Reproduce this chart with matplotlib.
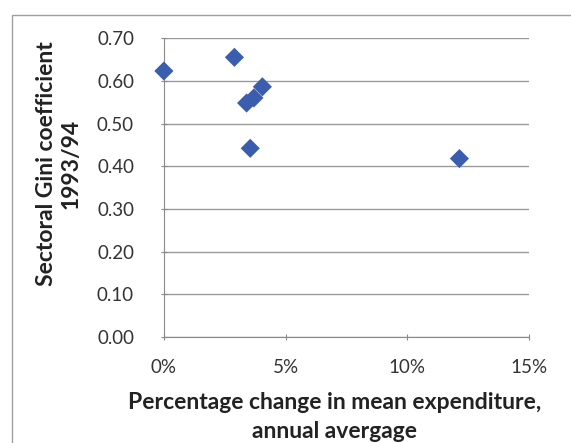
import matplotlib.pyplot as plt
import matplotlib.ticker as mtick
from matplotlib.patches import Rectangle

# mean expenditure growth (%, annual average) vs sectoral Gini 1993/94
growth = [0.0, 2.9, 3.4, 3.7, 4.05, 3.55, 12.15]
gini = [0.623, 0.655, 0.548, 0.560, 0.586, 0.442, 0.418]

x_ticks = [0, 5, 10, 15]
y_ticks = [0.0, 0.1, 0.2, 0.3, 0.4, 0.5, 0.6, 0.7]

plt.rcParams['font.family'] = ['Lato', 'DejaVu Sans']

fig = plt.figure(figsize=(5.71, 4.43), dpi=100)
ax = fig.add_axes([0.287, 0.239, 0.639, 0.675])

# faint chart-area border like the spreadsheet export
fig.patches.append(Rectangle((12 / 571, -0.1), 1.2, 1.1 - 15 / 443,
                             transform=fig.transFigure, fill=False,
                             edgecolor='#a0a0a0', linewidth=1.0))

ax.scatter(growth, gini, marker='D', s=95, color='#3a5dae', zorder=3,
           edgecolors='none', clip_on=False)

ax.set_xlim(0, 15)
ax.set_ylim(0, 0.7)
ax.set_xticks(x_ticks)
ax.set_yticks(y_ticks)
ax.xaxis.set_major_formatter(mtick.FuncFormatter(lambda v, p: f'{v:.0f}%'))
ax.yaxis.set_major_formatter(mtick.FormatStrFormatter('%.2f'))

ax.grid(axis='y', color='#9a9a9a', linewidth=1.0)
ax.set_axisbelow(True)
for s in ['top', 'right']:
    ax.spines[s].set_visible(False)
for s in ['left', 'bottom']:
    ax.spines[s].set_color('#8a8a8a')
ax.tick_params(axis='both', colors='#8a8a8a', labelcolor='#333333',
               labelsize=13.5, length=5, direction='inout')
ax.tick_params(axis='y', pad=19)
ax.tick_params(axis='x', pad=13)

ax.set_ylabel('Sectoral Gini coefficient\n1993/94', fontsize=16.5,
              fontweight='bold', color='#222222', linespacing=1.2)
ax.yaxis.set_label_coords(-0.225, 0.58)
ax.set_xlabel('Percentage change in mean expenditure,\nannual avergage',
              fontsize=16.5, fontweight='bold', color='#222222', linespacing=1.5)
ax.xaxis.set_label_coords(0.468, -0.182)

fig.savefig('out.png', dpi=100)
